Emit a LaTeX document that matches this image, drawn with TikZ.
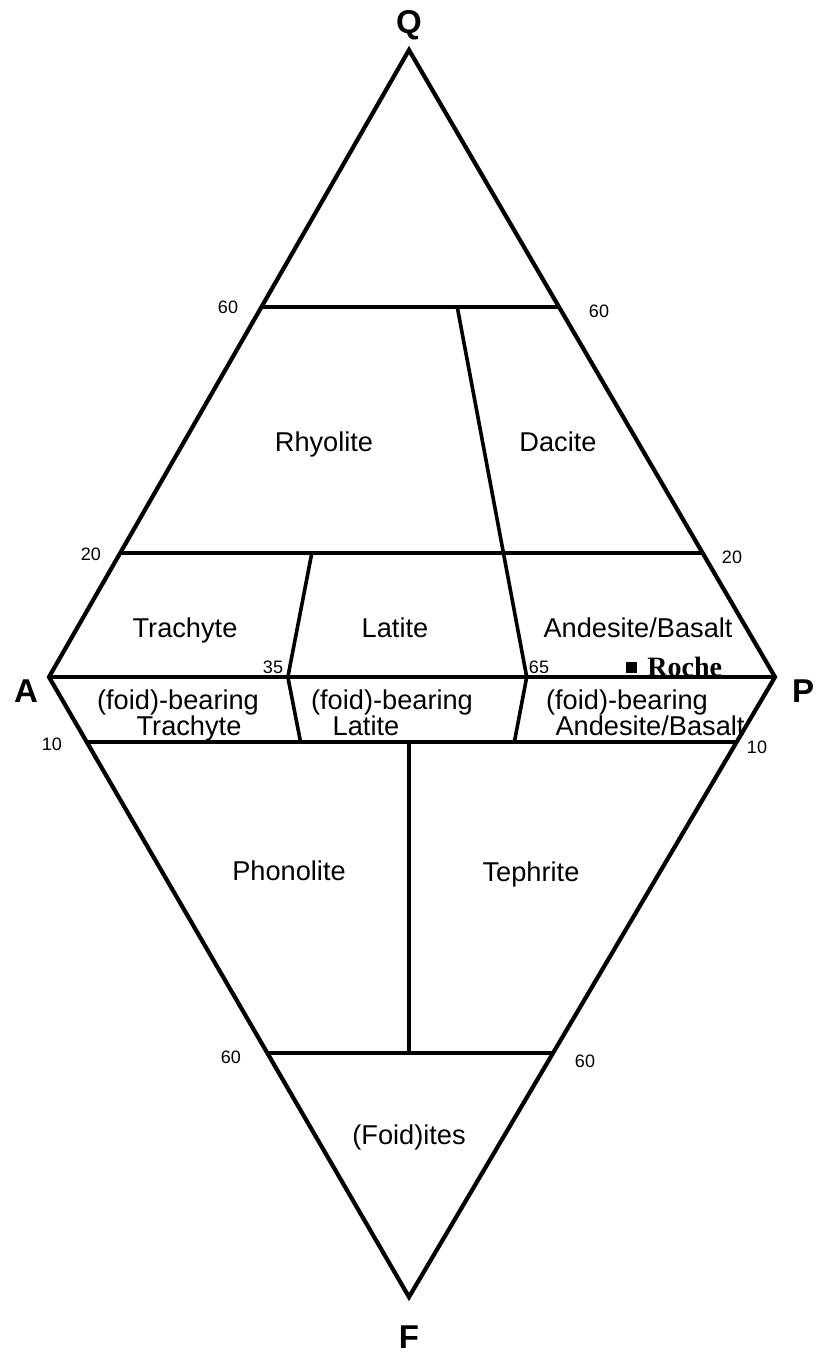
\documentclass[tikz,border=0pt]{standalone}
\usepackage{fontspec}
\setmainfont{Liberation Sans}
\newfontfamily\rocheface{Liberation Serif}
\usetikzlibrary{calc}

\begin{document}
\begin{tikzpicture}[x=0.5pt, y=-0.5pt,
  outline/.style={line width=2.1pt, line join=miter},
  divide/.style={line width=1.8pt},
  field/.style={font=\fontsize{13.6}{16}\selectfont, anchor=base, inner sep=0pt},
  tick/.style={font=\fontsize{9}{11}\selectfont, anchor=base, inner sep=0pt},
  apex/.style={font=\fontsize{16.5}{19}\selectfont\bfseries, anchor=base, inner sep=0pt},
  sample/.style={fill=black, minimum size=5.5pt, inner sep=0pt}]
  \useasboundingbox (0,0) rectangle (815,1355);
  % corners of the double triangle
  \coordinate (Q) at (409,50);
  \coordinate (A) at (49,677);
  \coordinate (P) at (775,677);
  \coordinate (F) at (409,1297);
  \coordinate (b35) at ($(A)!0.329!(P)$);
  \coordinate (b65) at ($(A)!0.658!(P)$);
  \draw[outline] (Q) -- (A) -- (F) -- (P) -- cycle;
  \draw[divide] (A) -- (P);
  % horizontal boundaries
  \draw[divide] ($(Q)!0.41!(A)$) -- ($(Q)!0.41!(P)$);
  \draw[divide] ($(Q)!0.802!(A)$) -- ($(Q)!0.802!(P)$);
  \draw[divide] ($(A)!0.105!(F)$) coordinate (f10a) -- ($(P)!0.105!(F)$);
  \draw[divide] ($(A)!0.606!(F)$) coordinate (f60a) -- ($(P)!0.606!(F)$);
  % slanted and vertical boundaries
  \draw[divide] ($(Q)!0.802!(b35)$) -- (b35) -- ($(b35)!0.105!(F)$);
  \draw[divide] ($(Q)!0.41!(b65)$) -- (b65) -- ($(b65)!0.105!(F)$);
  \draw[divide] (F |- f10a) -- (F |- f60a);
  % corner letters
  \node[apex] (lQ) at (409,33) {Q};
  \node[apex] (lA) at (26,702) {A};
  \node[apex] (lP) at (803,702) {P};
  \node[apex] (lF) at (409,1348) {F};
  % tick values
  \node[tick] (t60qa) at (228,313) {60};
  \node[tick] (t60qp) at (599,317) {60};
  \node[tick] (t20a) at (91,560) {20};
  \node[tick] (t20p) at (732,563) {20};
  \node[tick] (t35) at (273,673) {35};
  \node[tick] (t65) at (539,673) {65};
  \node[tick] (t10a) at (52,750) {10};
  \node[tick] (t10p) at (757,753) {10};
  \node[tick] (t60fa) at (231,1063) {60};
  \node[tick] (t60fp) at (585,1067) {60};
  % rock fields
  \node[field] (rhyo) at (324,451) {Rhyolite};
  \node[field] (daci) at (558,451) {Dacite};
  \node[field] (trach) at (185,637) {Trachyte};
  \node[field] (lati) at (395,637) {Latite};
  \node[field] (ande) at (638,637) {Andesite/Basalt};
  \node[field] (ftrach1) at (178,709) {(foid)-bearing};
  \node[field] (ftrach2) at (189,735) {Trachyte};
  \node[field] (flati1) at (392,709) {(foid)-bearing};
  \node[field] (flati2) at (366,735) {Latite};
  \node[field] (fande1) at (627,709) {(foid)-bearing};
  \node[field] (fande2) at (650,735) {Andesite/Basalt};
  \node[field] (phon) at (289,880) {Phonolite};
  \node[field] (teph) at (531,881) {Tephrite};
  \node[field] (foid) at (409,1144) {(Foid)ites};
  % sample
  \node[sample] (roche) at (631.5,667.5) {};
  \node[anchor=base west, inner sep=0pt, font=\rocheface\fontsize{14}{17}\selectfont\bfseries] (rochetxt) at (647,676) {Roche};
\end{tikzpicture}
\end{document}
